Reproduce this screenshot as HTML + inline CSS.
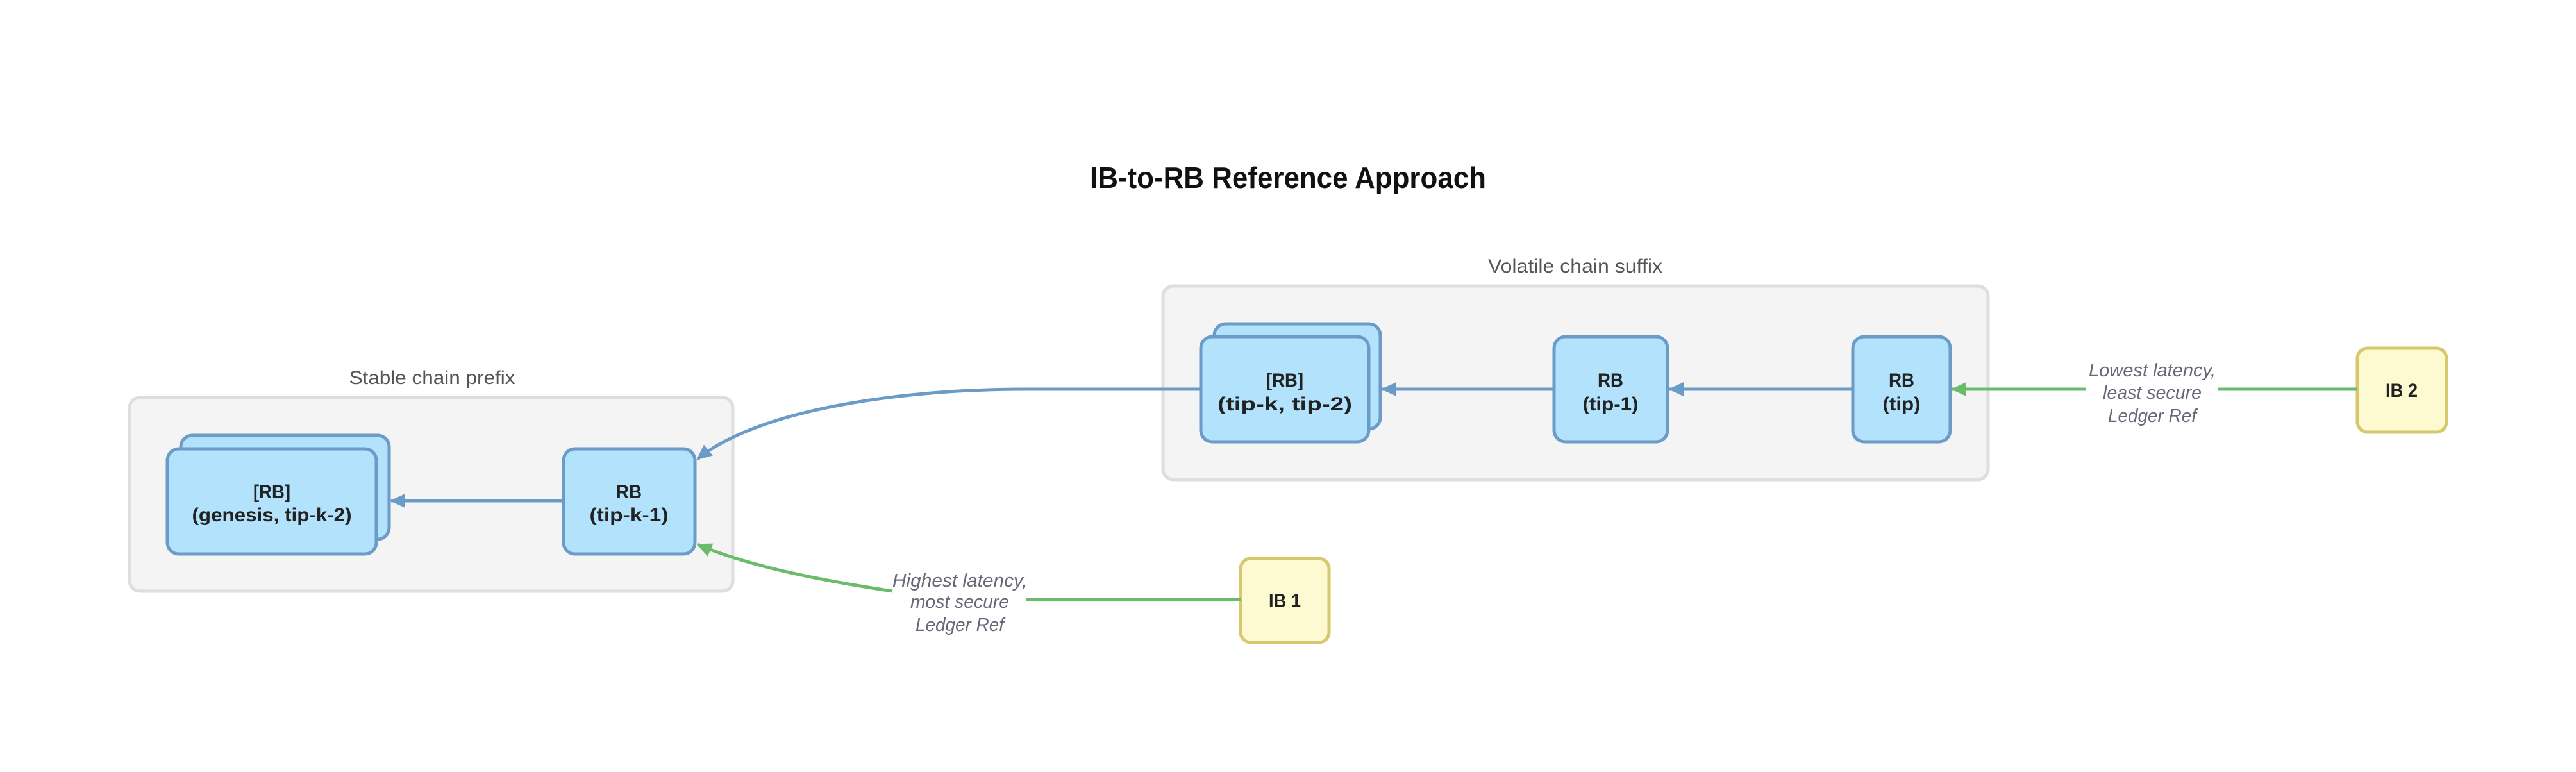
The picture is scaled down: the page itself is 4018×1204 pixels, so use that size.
<!DOCTYPE html>
<html><head><meta charset="utf-8"><style>
html,body{margin:0;padding:0;background:#fff;}
svg{display:block;}
text{font-family:"Liberation Sans",sans-serif;}
.n{font-weight:bold;font-size:30px;fill:#222;text-anchor:middle;}
.l{font-style:italic;font-size:29px;fill:#666877;text-anchor:middle;}
.g{font-size:30px;fill:#555;text-anchor:middle;}
.node{fill:#b3e2fd;stroke:#6b9bc7;stroke-width:5;}
.ib{fill:#fdf9d0;stroke:#d6c86c;stroke-width:5;}
.box{fill:#f4f4f4;stroke:#dedede;stroke-width:5;}
</style></head><body>
<svg width="4018" height="1204" viewBox="0 0 4018 1204" xmlns="http://www.w3.org/2000/svg">
<defs>
<marker id="ab" markerWidth="24" markerHeight="22" refX="22" refY="11" orient="auto" markerUnits="userSpaceOnUse" viewBox="0 0 24 22"><path d="M0,0 L24,11 L0,22 z" fill="#6b9bc7"/></marker>
<marker id="ag" markerWidth="24" markerHeight="22" refX="22" refY="11" orient="auto" markerUnits="userSpaceOnUse" viewBox="0 0 24 22"><path d="M0,0 L24,11 L0,22 z" fill="#6abb6a"/></marker>
</defs>
<text x="2009" y="293" font-size="46" font-weight="bold" fill="#111" text-anchor="middle" textLength="618" lengthAdjust="spacingAndGlyphs">IB-to-RB Reference Approach</text>

<!-- Stable box -->
<rect class="box" x="202" y="620" width="941" height="302" rx="16"/>
<text class="g" x="674" y="599" textLength="259" lengthAdjust="spacingAndGlyphs">Stable chain prefix</text>
<rect class="node" x="282" y="679" width="325" height="162" rx="18"/>
<rect class="node" x="261" y="700" width="326" height="164" rx="18"/>
<text class="n" x="424" y="777" textLength="58" lengthAdjust="spacingAndGlyphs">[RB]</text>
<text class="n" x="424" y="813" textLength="249" lengthAdjust="spacingAndGlyphs">(genesis, tip-k-2)</text>
<rect class="node" x="879" y="700" width="205" height="164" rx="18"/>
<text class="n" x="981" y="777" textLength="40" lengthAdjust="spacingAndGlyphs">RB</text>
<text class="n" x="981" y="813" textLength="123" lengthAdjust="spacingAndGlyphs">(tip-k-1)</text>

<!-- Volatile box -->
<rect class="box" x="1814" y="446" width="1287" height="302" rx="16"/>
<text class="g" x="2457" y="425" textLength="272" lengthAdjust="spacingAndGlyphs">Volatile chain suffix</text>
<rect class="node" x="1894" y="505" width="259" height="164" rx="18"/>
<rect class="node" x="1873" y="525" width="262" height="164" rx="18"/>
<text class="n" x="2004" y="603" textLength="58" lengthAdjust="spacingAndGlyphs">[RB]</text>
<text class="n" x="2004" y="640" textLength="210" lengthAdjust="spacingAndGlyphs">(tip-k, tip-2)</text>
<rect class="node" x="2424" y="525" width="177" height="164" rx="18"/>
<text class="n" x="2512" y="603" textLength="40" lengthAdjust="spacingAndGlyphs">RB</text>
<text class="n" x="2512" y="640" textLength="87" lengthAdjust="spacingAndGlyphs">(tip-1)</text>
<rect class="node" x="2890" y="525" width="152" height="164" rx="18"/>
<text class="n" x="2966" y="603" textLength="40" lengthAdjust="spacingAndGlyphs">RB</text>
<text class="n" x="2966" y="640" textLength="59" lengthAdjust="spacingAndGlyphs">(tip)</text>

<!-- IB nodes -->
<rect class="ib" x="3677" y="543" width="139" height="131" rx="16"/>
<text class="n" x="3746" y="619" textLength="50" lengthAdjust="spacingAndGlyphs">IB 2</text>
<rect class="ib" x="1935" y="871" width="138" height="131" rx="16"/>
<text class="n" x="2004" y="947" textLength="50" lengthAdjust="spacingAndGlyphs">IB 1</text>

<!-- Blue edges -->
<g fill="none" stroke="#6b9bc7" stroke-width="5">
<line x1="879" y1="781" x2="610" y2="781" marker-end="url(#ab)"/>
<line x1="2424" y1="607" x2="2156" y2="607" marker-end="url(#ab)"/>
<line x1="2890" y1="607" x2="2604" y2="607" marker-end="url(#ab)"/>
<path d="M1873,607 L1600,607 C1400,607 1180,640 1088,716" marker-end="url(#ab)"/>
</g>
<!-- Green edges -->
<g fill="none" stroke="#6abb6a" stroke-width="5">
<line x1="3677" y1="607" x2="3460" y2="607"/>
<line x1="3254" y1="607" x2="3045" y2="607" marker-end="url(#ag)"/>
<line x1="1935" y1="935" x2="1601" y2="935"/>
<path d="M1392,922 C1260,902 1160,880 1088,849" marker-end="url(#ag)"/>
</g>
<text class="l" x="3357" y="587" textLength="198" lengthAdjust="spacingAndGlyphs">Lowest latency,</text>
<text class="l" x="3357" y="622" textLength="154" lengthAdjust="spacingAndGlyphs">least secure</text>
<text class="l" x="3357" y="658" textLength="138" lengthAdjust="spacingAndGlyphs">Ledger Ref</text>
<text class="l" x="1497" y="915" textLength="210" lengthAdjust="spacingAndGlyphs">Highest latency,</text>
<text class="l" x="1497" y="948" textLength="154" lengthAdjust="spacingAndGlyphs">most secure</text>
<text class="l" x="1497" y="984" textLength="138" lengthAdjust="spacingAndGlyphs">Ledger Ref</text>
</svg>
</body></html>
